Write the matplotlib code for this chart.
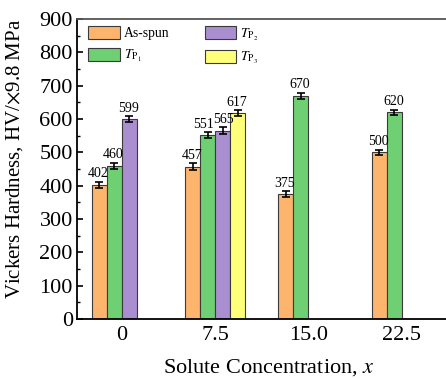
import numpy as np
import matplotlib.pyplot as plt
from matplotlib.ticker import MultipleLocator

plt.rcParams['font.family'] = ['Liberation Serif', 'DejaVu Serif']
plt.rcParams['mathtext.fontset'] = 'stix'

# data
groups = ['0', '7.5', '15.0', '22.5']
series = ['As-spun', r'$T_{\mathrm{P}_1}$', r'$T_{\mathrm{P}_2}$', r'$T_{\mathrm{P}_3}$']
as_spun = [402, 457, 375, 500]
tp1 = [460, 551, 670, 620]
tp2 = [599, 565, np.nan, np.nan]
tp3 = [np.nan, 617, np.nan, np.nan]
err_as = [10, 10, 8, 8]
err_tp1 = [9, 9, 9, 8]
err_tp2 = [9, 10, 0, 0]
err_tp3 = [9, 9, 0, 0]

colors = ['#fdb46d', '#6fcf73', '#a98ed0', '#ffff7a']

fig = plt.figure(figsize=(4.46, 3.79), dpi=100)
ax = fig.add_axes([0.1726, 0.158, 0.86, 0.792])

x = np.arange(len(groups))
w = 0.161
vals = [as_spun, tp1, tp2, tp3]
errs = [err_as, err_tp1, err_tp2, err_tp3]
for i in range(4):
    xs = x + (i - 1.5) * w
    v = np.array(vals[i], dtype=float)
    e = np.array(errs[i], dtype=float)
    ok = ~np.isnan(v)
    ax.bar(xs[ok], v[ok], w, color=colors[i], edgecolor='#3a3a3a', linewidth=0.8,
           label=series[i], zorder=2)
    ax.errorbar(xs[ok], v[ok], yerr=e[ok], fmt='none', ecolor='black',
                elinewidth=1.2, capsize=3, capthick=1.2, zorder=3)
    for xi, vi, ei in zip(xs[ok], v[ok], e[ok]):
        dx = -0.01
        if i == 1 and vi == 551:
            dx = -0.045
        if i == 2 and vi == 565:
            dx = 0.005
        ax.text(xi + dx, vi + ei + 5, '%d' % vi, ha='center', va='bottom', fontsize=10)

ax.set_xlim(-0.48, 3.63)
ax.set_ylim(0, 900)
ax.set_xticks(x)
ax.set_xticklabels(groups)
ax.tick_params(axis='x', length=0, labelsize=16, pad=5)
ax.yaxis.set_major_locator(MultipleLocator(100))
ax.yaxis.set_minor_locator(MultipleLocator(50))
ax.tick_params(axis='y', which='major', direction='in', length=4, width=1.2, labelsize=16, pad=3)
ax.tick_params(axis='y', which='minor', direction='in', length=2.5, width=1)
ax.spines['right'].set_visible(False)
for s in ['left', 'bottom', 'top']:
    ax.spines[s].set_linewidth(1.3)
ax.spines['top'].set_color('#555555')

ax.set_xlabel('Solute Concentration, $x$', fontsize=16, labelpad=9)
ax.set_ylabel(r'Vickers Hardness, HV/$\times$9.8 MPa', fontsize=15, labelpad=3)
ax.yaxis.set_label_coords(-0.135, 0.535)

ax.legend(ncol=2, loc='upper left', bbox_to_anchor=(0.03, 0.975), frameon=False,
          fontsize=9.8, handlelength=2.3, handleheight=1.05, columnspacing=2.6,
          labelspacing=0.55, handletextpad=0.3, borderpad=0, borderaxespad=0)

fig.savefig('out.png', dpi=100)
